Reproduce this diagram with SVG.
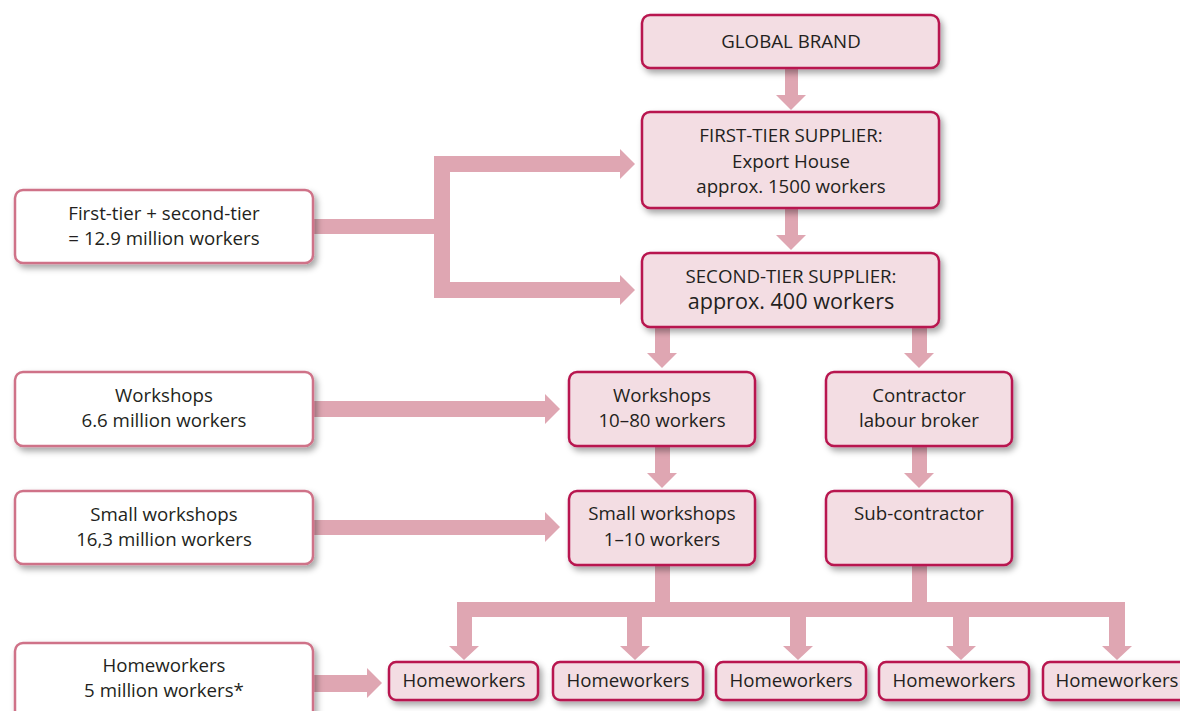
<svg xmlns="http://www.w3.org/2000/svg" width="1180" height="711" viewBox="0 0 1180 711">
<defs>
<filter id="sh" x="-10%" y="-20%" width="130%" height="160%">
<feDropShadow dx="3" dy="4" stdDeviation="3" flood-color="#000" flood-opacity="0.35"/>
</filter>
<style>
.n rect{fill:#f3dde3;stroke:#b8174f;stroke-width:2.5;filter:url(#sh)}
.l rect{fill:#ffffff;stroke:#cf7288;stroke-width:2.5;filter:url(#sh)}
text{font-family:"Open Sans","Noto Sans",sans-serif;font-size:18.7px;fill:#231f20;text-anchor:middle}
.a{fill:#dfa6b2}
</style>
</defs>
<rect width="1180" height="711" fill="#ffffff"/>
<g id="connectors" class="a">
<rect x="785" y="67" width="13" height="29"/><polygon points="776,95 806,95 791,110"/>
<rect x="785" y="207" width="13" height="29"/><polygon points="776,235 806,235 791,250"/>
<rect x="312" y="219" width="130" height="15"/>
<rect x="434" y="156" width="16" height="142"/>
<rect x="434" y="156" width="187" height="16"/><polygon points="620,149 635,164 620,179"/>
<rect x="434" y="282" width="187" height="16"/><polygon points="620,275 635,290 620,305"/>
<rect x="655" y="326" width="15" height="28"/><polygon points="647,353 677,353 662,368"/>
<rect x="912" y="326" width="15" height="28"/><polygon points="904,353 934,353 919,368"/>
<rect x="312" y="401" width="234" height="16"/><polygon points="545,394 560,409 545,424"/>
<rect x="655" y="445" width="15" height="29"/><polygon points="647,473 677,473 662,488"/>
<rect x="912" y="445" width="15" height="29"/><polygon points="904,473 934,473 919,488"/>
<rect x="312" y="520" width="234" height="15"/><polygon points="545,512 560,527 545,542"/>
<rect x="655" y="564" width="15" height="40"/>
<rect x="912" y="564" width="15" height="40"/>
<rect x="457" y="602" width="668" height="15"/>
<rect x="457" y="602" width="15" height="45"/><polygon points="449,646 479,646 464,660"/>
<rect x="627" y="602" width="15" height="45"/><polygon points="620,646 650,646 635,660"/>
<rect x="790" y="602" width="16" height="45"/><polygon points="783,646 813,646 798,660"/>
<rect x="953" y="602" width="16" height="45"/><polygon points="946,646 976,646 961,660"/>
<rect x="1109" y="602" width="16" height="45"/><polygon points="1102,646 1132,646 1117,660"/>
<rect x="312" y="675" width="56" height="17"/><polygon points="367,668 382,683 367,698"/>
</g>
<g id="global-brand" class="n"><rect x="642" y="15" width="297" height="53" rx="8"/><text x="791" y="48">GLOBAL BRAND</text></g>
<g id="first-tier" class="n"><rect x="642" y="112" width="297" height="96" rx="8"/><text x="791" y="142">FIRST-TIER SUPPLIER:</text><text x="791" y="168">Export House</text><text x="791" y="193">approx. 1500 workers</text></g>
<g id="second-tier" class="n"><rect x="642" y="253" width="297" height="74" rx="8"/><text x="791" y="283">SECOND-TIER SUPPLIER:</text><text x="791" y="309" style="font-size:21.6px">approx. 400 workers</text></g>
<g id="workshops" class="n"><rect x="569" y="372" width="186" height="74" rx="8"/><text x="662" y="402">Workshops</text><text x="662" y="427">10–80 workers</text></g>
<g id="contractor" class="n"><rect x="826" y="372" width="186" height="74" rx="8"/><text x="919" y="402">Contractor</text><text x="919" y="427">labour broker</text></g>
<g id="small-workshops" class="n"><rect x="569" y="491" width="186" height="74" rx="8"/><text x="662" y="520">Small workshops</text><text x="662" y="546">1–10 workers</text></g>
<g id="sub-contractor" class="n"><rect x="826" y="491" width="186" height="74" rx="8"/><text x="919" y="520">Sub-contractor</text></g>
<g id="hw1" class="n"><rect x="389" y="662" width="149" height="38" rx="7"/><text x="464" y="687">Homeworkers</text></g>
<g id="hw2" class="n"><rect x="553" y="662" width="150" height="38" rx="7"/><text x="628" y="687">Homeworkers</text></g>
<g id="hw3" class="n"><rect x="716" y="662" width="150" height="38" rx="7"/><text x="791" y="687">Homeworkers</text></g>
<g id="hw4" class="n"><rect x="879" y="662" width="150" height="38" rx="7"/><text x="954" y="687">Homeworkers</text></g>
<g id="hw5" class="n"><rect x="1043" y="662" width="150" height="38" rx="7"/><text x="1117" y="687">Homeworkers</text></g>
<g id="left-tier" class="l"><rect x="15" y="190" width="298" height="73" rx="8"/><text x="164" y="220">First-tier + second-tier</text><text x="164" y="245">= 12.9 million workers</text></g>
<g id="left-workshops" class="l"><rect x="15" y="372" width="298" height="74" rx="8"/><text x="164" y="402">Workshops</text><text x="164" y="427">6.6 million workers</text></g>
<g id="left-small" class="l"><rect x="15" y="491" width="298" height="73" rx="8"/><text x="164" y="521">Small workshops</text><text x="164" y="546">16,3 million workers</text></g>
<g id="left-home" class="l"><rect x="15" y="643" width="298" height="80" rx="8"/><text x="164" y="672">Homeworkers</text><text x="164" y="697">5 million workers*</text></g>
</svg>
